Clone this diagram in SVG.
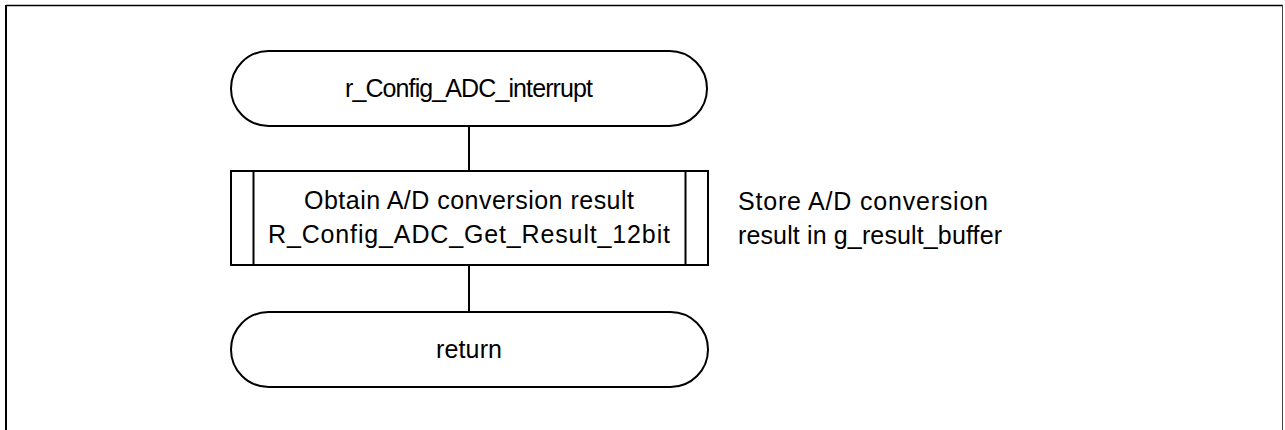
<svg xmlns="http://www.w3.org/2000/svg" width="1285" height="430" viewBox="0 0 1285 430">
<style>
.s{fill:#fff;stroke:#000;stroke-width:2}
.c{stroke:#000;stroke-width:2;fill:none}
text{font-family:"Liberation Sans",Arial,sans-serif;font-size:25px;fill:#000}
.m{text-anchor:middle}
</style>
<rect width="1285" height="430" fill="#fff"/>
<g id="frame">
<line x1="6" y1="5.5" x2="1283" y2="5.5" stroke="#000" stroke-width="1.5"/>
<line x1="6" y1="5" x2="6" y2="430" stroke="#000" stroke-width="2"/>
<line x1="1282.5" y1="5" x2="1282.5" y2="430" stroke="#444" stroke-width="1"/>
</g>
<g id="connectors">
<line class="c" x1="469" y1="126" x2="469" y2="171"/>
<line class="c" x1="469" y1="265" x2="469" y2="312"/>
</g>
<g id="start">
<rect class="s" x="231" y="51" width="476" height="75" rx="37.5" ry="37.5"/>
<text class="m" x="469" y="97" textLength="248" lengthAdjust="spacing">r_Config_ADC_interrupt</text>
</g>
<g id="process">
<rect class="s" x="231" y="171" width="477" height="94"/>
<line class="c" x1="253.5" y1="171" x2="253.5" y2="265"/>
<line class="c" x1="685.5" y1="171" x2="685.5" y2="265"/>
<text class="m" x="469" y="209" textLength="330" lengthAdjust="spacing">Obtain A/D conversion result</text>
<text class="m" x="469" y="243" textLength="402" lengthAdjust="spacing">R_Config_ADC_Get_Result_12bit</text>
</g>
<g id="end">
<rect class="s" x="231" y="312" width="477" height="75" rx="37.5" ry="37.5"/>
<text class="m" x="469" y="358" textLength="66" lengthAdjust="spacing">return</text>
</g>
<g id="note">
<text x="738" y="210" textLength="250" lengthAdjust="spacing">Store A/D conversion</text>
<text x="738" y="244" textLength="264" lengthAdjust="spacing">result in g_result_buffer</text>
</g>
</svg>
